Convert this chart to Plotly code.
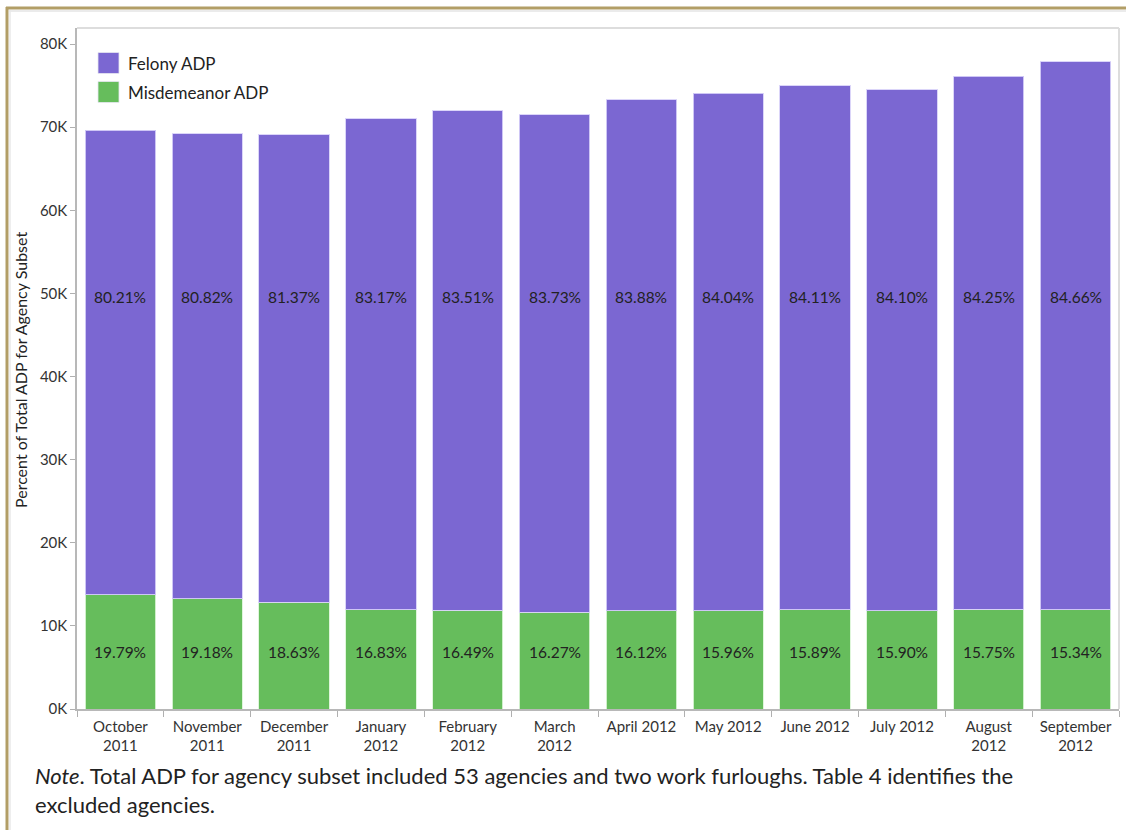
import plotly.graph_objects as go

months = ["October<br>2011", "November<br>2011", "December<br>2011", "January<br>2012",
          "February<br>2012", "March<br>2012", "April 2012", "May 2012", "June 2012",
          "July 2012", "August<br>2012", "September<br>2012"]
total_adp = [69600, 69200, 69100, 71000, 72000, 71500, 73300, 74100, 75000, 74500, 76100, 77900]
felony_pct = [80.21, 80.82, 81.37, 83.17, 83.51, 83.73, 83.88, 84.04, 84.11, 84.10, 84.25, 84.66]
misd_pct = [19.79, 19.18, 18.63, 16.83, 16.49, 16.27, 16.12, 15.96, 15.89, 15.90, 15.75, 15.34]
y_ticks = [0, 10000, 20000, 30000, 40000, 50000, 60000, 70000, 80000]
y_tick_text = ["0K", "10K", "20K", "30K", "40K", "50K", "60K", "70K", "80K"]

misd = [t * p / 100 for t, p in zip(total_adp, misd_pct)]
felony = [t * p / 100 for t, p in zip(total_adp, felony_pct)]

PURPLE = "#7b67d2"
GREEN = "#66bd5c"
FONT = "Lato"

W, H = 1126, 830
L, R, T, B = 77, 1119, 28, 709


def px(x):
    return (x - L) / (R - L)


def py(y):
    return (B - y) / (B - T)


fig = go.Figure()
fig.add_bar(x=months, y=misd, name="Misdemeanor ADP", marker_color=GREEN,
            marker_line=dict(color="rgba(220,245,215,0.9)", width=1), width=0.81)
fig.add_bar(x=months, y=felony, name="Felony ADP", marker_color=PURPLE,
            marker_line=dict(color="rgba(215,208,248,0.9)", width=1), width=0.81)

annotations = []
for m, fp, mp in zip(months, felony_pct, misd_pct):
    annotations.append(dict(x=m, y=49550, text=f"{fp:.2f}%", showarrow=False,
                            xanchor="center", yanchor="middle",
                            font=dict(family=FONT, size=15.5, color="#222")))
    annotations.append(dict(x=m, y=6860, text=f"{mp:.2f}%", showarrow=False,
                            xanchor="center", yanchor="middle",
                            font=dict(family=FONT, size=15.5, color="#222")))

# y-axis title
annotations.append(dict(xref="paper", yref="paper", x=px(20), y=py(370),
                        xanchor="center", yanchor="middle",
                        text="Percent of Total ADP for Agency Subset", textangle=-90,
                        showarrow=False, font=dict(family=FONT, size=16, color="#222")))

# legend entries
for label, color, cy in [("Felony ADP", PURPLE, 63.5), ("Misdemeanor ADP", GREEN, 92.5)]:
    annotations.append(dict(xref="paper", yref="paper", x=px(126), y=py(cy), text=label,
                            xanchor="left", yanchor="middle", showarrow=False,
                            font=dict(family=FONT, size=17, color="#222")))

# note below the chart
annotations.append(dict(xref="paper", yref="paper", x=px(33), y=py(760), xanchor="left",
                        yanchor="top", align="left", showarrow=False,
                        text="<i>Note</i>. Total ADP for agency subset included 53 agencies and two work furloughs. Table 4 identifies the<br>excluded agencies.",
                        font=dict(family=FONT, size=22, color="#222")))

shapes = []
for color, cy in [(PURPLE, 63), (GREEN, 92)]:
    shapes.append(dict(type="rect", xref="paper", yref="paper",
                       x0=px(98), x1=px(119), y0=py(cy - 10.5), y1=py(cy + 10.5),
                       fillcolor=color, line=dict(color="rgba(230,230,240,0.8)", width=1)))
# plot frame top and right
shapes.append(dict(type="line", xref="paper", yref="paper", x0=0, x1=1, y0=1, y1=1,
                   line=dict(color="#dddddd", width=2)))
shapes.append(dict(type="line", xref="paper", yref="paper", x0=1, x1=1, y0=0, y1=1,
                   line=dict(color="#dddddd", width=2)))
# page border
shapes.append(dict(type="line", xref="paper", yref="paper", x0=px(6), x1=px(1130),
                   y0=py(8), y1=py(8), line=dict(color="#b29e66", width=3)))
shapes.append(dict(type="line", xref="paper", yref="paper", x0=px(7), x1=px(7),
                   y0=py(7), y1=py(835), line=dict(color="#b29e66", width=3)))
shapes.append(dict(type="line", xref="paper", yref="paper", x0=px(9), x1=px(1130),
                   y0=py(11), y1=py(11), line=dict(color="#e4e4e4", width=1.5)))
shapes.append(dict(type="line", xref="paper", yref="paper", x0=px(10), x1=px(10),
                   y0=py(10), y1=py(835), line=dict(color="#e8e8e8", width=1.5)))

fig.update_layout(
    width=W, height=H,
    barmode="stack",
    showlegend=False,
    plot_bgcolor="white", paper_bgcolor="white",
    margin=dict(l=L, r=W - R, t=T, b=H - B, pad=0),
    font=dict(family=FONT, color="#333"),
    annotations=annotations,
    shapes=shapes,
    xaxis=dict(type="category", tickson="boundaries", ticks="outside", ticklen=6,
               tickcolor="#b0b0b0", showline=True, linecolor="#b8b8b8", linewidth=1.5,
               showgrid=False, tickfont=dict(family=FONT, size=15, color="#333"),
               ticklabelstandoff=3, range=[-0.5, 11.5]),
    yaxis=dict(range=[0, 81930], tickvals=y_ticks, ticktext=y_tick_text, ticks="outside",
               ticklen=5, tickcolor="#b0b0b0", showline=True, linecolor="#b8b8b8",
               linewidth=1.5, showgrid=False, zeroline=False,
               tickfont=dict(family=FONT, size=15, color="#333")),
)

fig.write_html("out.html")
